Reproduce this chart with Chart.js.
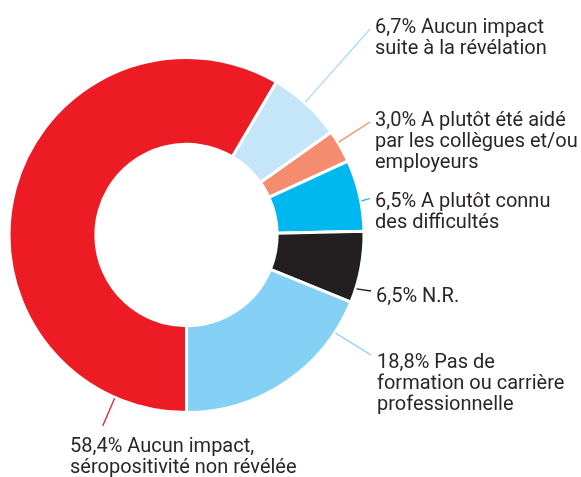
<!DOCTYPE html>
<html>
<head>
<meta charset="utf-8">
<script src="https://cdn.jsdelivr.net/npm/chart.js@4.4.1/dist/chart.umd.min.js"></script>
<style>
  html, body { margin: 0; padding: 0; background: #ffffff; }
  #wrap { width: 581px; height: 477px; position: relative; }
</style>
</head>
<body>
<div id="wrap"><canvas id="c" width="581" height="477"></canvas></div>
<script>
// ---- data ----
const categories = [
  "Aucun impact, séropositivité non révélée",
  "Aucun impact suite à la révélation",
  "A plutôt été aidé par les collègues et/ou employeurs",
  "A plutôt connu des difficultés",
  "N.R.",
  "Pas de formation ou carrière professionnelle"
];
const values = [58.4, 6.7, 3.0, 6.5, 6.5, 18.8];
const valueLabels = ["58,4%", "6,7%", "3,0%", "6,5%", "6,5%", "18,8%"];
const labelLines = [
  ["58,4% Aucun impact,", "séropositivité non révélée"],
  ["6,7% Aucun impact", "suite à la révélation"],
  ["3,0% A plutôt été aidé", "par les collègues et/ou", "employeurs"],
  ["6,5% A plutôt connu", "des difficultés"],
  ["6,5% N.R."],
  ["18,8% Pas de", "formation ou carrière", "professionnelle"]
];
const colors = ["#ED1C24", "#C5E5F8", "#F58C6F", "#00B8F0", "#231F20", "#84D1F5"];
const leaderColors = ["#ED1C24", "#A9DBF5", "#F58C6F", "#00B8F0", "#231F20", "#84D1F5"];

// ---- label layout (annotation placement) ----
const labelLayout = [
  { x: 70,  y: 452, frac: 0.113, ex: 102.7, ey: 426 },
  { x: 375, y: 33,  frac: 0.47,  ex: 370,   ey: 29 },
  { x: 375, y: 126, frac: 0.37,  ex: 370,   ey: 122 },
  { x: 375, y: 207, frac: 0.58,  ex: 370,   ey: 198.5 },
  { x: 376, y: 302, frac: 0.80,  ex: 371,   ey: 291 },
  { x: 377, y: 368, frac: 0.164, ex: 371,   ey: 355 }
];
const lineHeight = 21.2;

const labelPlugin = {
  id: 'calloutLabels',
  afterDraw(chart) {
    const ctx = chart.ctx;
    const meta = chart.getDatasetMeta(0);
    ctx.save();
    meta.data.forEach((arc, i) => {
      const L = labelLayout[i];
      const p = arc.getProps(['x', 'y', 'startAngle', 'endAngle', 'outerRadius'], true);
      const a = p.startAngle + L.frac * (p.endAngle - p.startAngle);
      const r = p.outerRadius + 0.8;
      const sx = p.x + Math.cos(a) * r;
      const sy = p.y + Math.sin(a) * r;
      ctx.beginPath();
      ctx.strokeStyle = leaderColors[i];
      ctx.lineWidth = 1.3;
      ctx.moveTo(sx, sy);
      ctx.lineTo(L.ex, L.ey);
      ctx.stroke();
      ctx.fillStyle = "#2a2526";
      ctx.font = "20px Roboto";
      ctx.textAlign = "left";
      ctx.textBaseline = "alphabetic";
      labelLines[i].forEach((t, k) => {
        ctx.fillText(t, L.x, L.y + k * lineHeight);
      });
    });
    ctx.restore();
  }
};

new Chart(document.getElementById('c'), {
  type: 'doughnut',
  data: {
    labels: categories,
    datasets: [{
      data: values,
      backgroundColor: colors,
      borderColor: "#ffffff",
      borderWidth: 3,
      hoverOffset: 0
    }]
  },
  options: {
    responsive: false,
    animation: false,
    rotation: 180,
    radius: 177.5,
    cutout: 94.5,
    layout: { padding: { left: 0, right: 208, top: 0, bottom: 7 } },
    plugins: {
      legend: { display: false },
      tooltip: { enabled: false }
    }
  },
  plugins: [labelPlugin]
});
</script>
</body>
</html>
